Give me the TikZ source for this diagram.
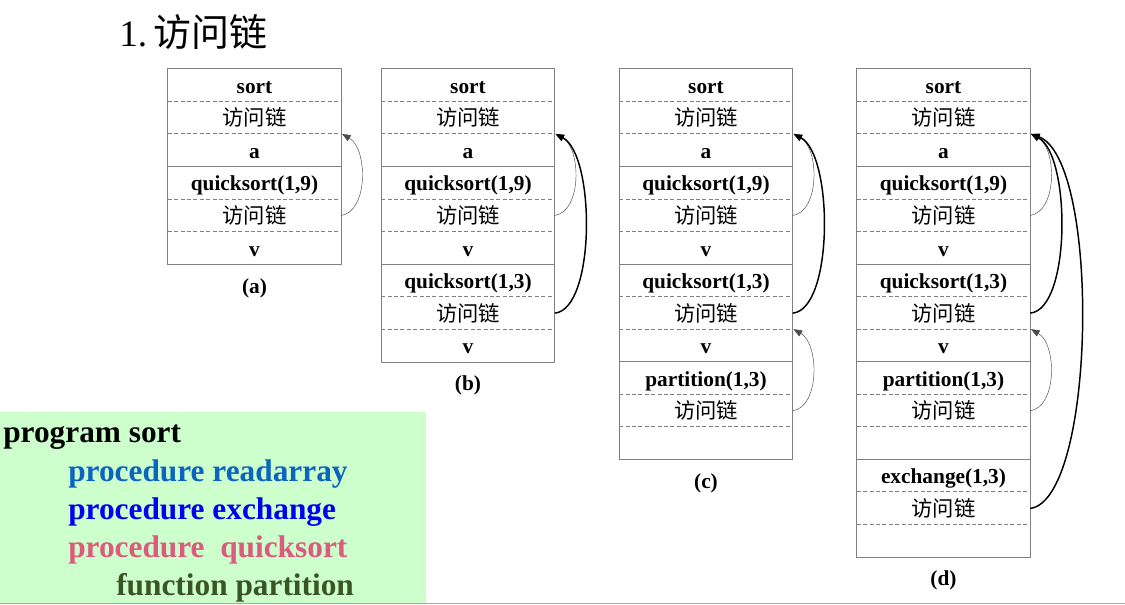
\documentclass[tikz,border=0pt]{standalone}
\usepackage{fontspec}
\setmainfont{Liberation Serif}
\newfontfamily\cjk{Noto Sans CJK SC}
\usetikzlibrary{arrows.meta}
\definecolor{boxgreen}{HTML}{CCFFCC}
\definecolor{cReadarray}{HTML}{0A64C0}
\definecolor{cExchange}{HTML}{0000F0}
\definecolor{cQuick}{HTML}{DC5A7D}
\definecolor{cPartition}{HTML}{3A5424}
\definecolor{frame}{HTML}{808080}
\tikzset{
  cell/.style={minimum width=129.75pt, minimum height=24.41pt, inner sep=0pt, text height=15pt, text depth=3pt, font=\fontsize{16}{18}\selectfont\bfseries},
  solidsep/.style={draw=frame, line width=0.6pt},
  dashsep/.style={draw=frame, line width=0.6pt, dash pattern=on 3pt off 1.8pt},
  outer/.style={draw=frame, line width=0.7pt},
  thinlink/.style={draw=black!70, line width=0.35pt, -{Triangle[length=6.5pt,width=5pt]}},
  thicklink/.style={draw=black, line width=1.1pt, -{Triangle[length=6.5pt,width=5pt]}},
  caption/.style={font=\fontsize{16}{18}\selectfont\bfseries, inner sep=0pt},
  code/.style={anchor=base west, inner sep=0pt, font=\fontsize{23.5}{26}\selectfont\bfseries}
}
\newcommand\acclink{{\cjk\mdseries 访问链}}
\begin{document}
\begin{tikzpicture}[x=0.75pt, y=-0.75pt]
\useasboundingbox (0,0) rectangle (1125,604);
% title
\node[anchor=base west, inner sep=0pt, font=\fontsize{28}{30}\selectfont] (title) at (119,46) {1.\kern5pt{\cjk\fontsize{28.5}{30}\selectfont 访问链}};
% stack a
\foreach \k/\t in {0/sort,1/\acclink,2/a,3/{quicksort(1,9)},4/\acclink,5/v}
  \node[cell] (a\k) at (254.5,{69+(\k+0.5)*32.55}) {\t};
% stack b
\foreach \k/\t in {0/sort,1/\acclink,2/a,3/{quicksort(1,9)},4/\acclink,5/v,6/{quicksort(1,3)},7/\acclink,8/v}
  \node[cell] (b\k) at (468,{69+(\k+0.5)*32.55}) {\t};
% stack c
\foreach \k/\t in {0/sort,1/\acclink,2/a,3/{quicksort(1,9)},4/\acclink,5/v,6/{quicksort(1,3)},7/\acclink,8/v,9/{partition(1,3)},10/\acclink,11/{}}
  \node[cell] (c\k) at (706,{69+(\k+0.5)*32.55}) {\t};
% stack d
\foreach \k/\t in {0/sort,1/\acclink,2/a,3/{quicksort(1,9)},4/\acclink,5/v,6/{quicksort(1,3)},7/\acclink,8/v,9/{partition(1,3)},10/\acclink,11/{},12/{exchange(1,3)},13/\acclink,14/{}}
  \node[cell] (d\k) at (943.5,{69+(\k+0.5)*32.55}) {\t};
% separators
\foreach \s/\n in {a/5,b/8,c/11,d/14}{
  \foreach \k in {1,...,\n}{
    \pgfmathtruncatemacro\r{mod(\k,3)}
    \ifnum\r=0
      \draw[solidsep] (\s\k.north west) -- (\s\k.north east);
    \else
      \draw[dashsep] (\s\k.north west) -- (\s\k.north east);
    \fi
  }
  \draw[outer] (\s0.north west) rectangle (\s\n.south east);
}
% captions
\node[caption] (capa) at (254.5,288) {(a)};
\node[caption] (capb) at (468,385.5) {(b)};
\node[caption] (capc) at (706,483) {(c)};
\node[caption] (capd) at (943.5,580.5) {(d)};
% access links
\draw[thinlink] (a4.east) .. controls +(27,-4) and +(26,15) .. ([xshift=0.5pt]a2.north east);
\draw[thinlink] (b4.east) .. controls +(27,-4) and +(26,15) .. ([xshift=0.5pt]b2.north east);
\draw[thicklink] (b7.east) .. controls +(41,-4) and +(40,21) .. ([xshift=0.5pt]b2.north east);
\draw[thinlink] (c4.east) .. controls +(27,-4) and +(26,15) .. ([xshift=0.5pt]c2.north east);
\draw[thicklink] (c7.east) .. controls +(41,-4) and +(40,21) .. ([xshift=0.5pt]c2.north east);
\draw[thinlink] (c10.east) .. controls +(27,-4) and +(26,15) .. ([xshift=0.5pt]c8.north east);
\draw[thinlink] (d4.east) .. controls +(27,-4) and +(26,15) .. ([xshift=0.5pt]d2.north east);
\draw[thicklink] (d7.east) .. controls +(41,-4) and +(40,21) .. ([xshift=0.5pt]d2.north east);
\draw[thinlink] (d10.east) .. controls +(27,-4) and +(26,15) .. ([xshift=0.5pt]d8.north east);
\draw[thicklink] (d13.east) .. controls +(66,-9) and +(70,26) .. ([xshift=0.5pt]d2.north east);
% program box
\fill[boxgreen] (0,412) rectangle (426,603);
\draw[black!35, line width=0.6pt] (0,603) -- (1125,603);
\node[code, text=black] (p0) at (3,442.5) {program sort};
\node[code, text=cReadarray] (p1) at (68,481) {procedure readarray};
\node[code, text=cExchange] (p2) at (68,519) {procedure exchange};
\node[code, text=cQuick] (p3) at (68,557.5) {procedure\ \ quicksort};
\node[code, text=cPartition] (p4) at (116,595.5) {function partition};
\end{tikzpicture}
\end{document}
